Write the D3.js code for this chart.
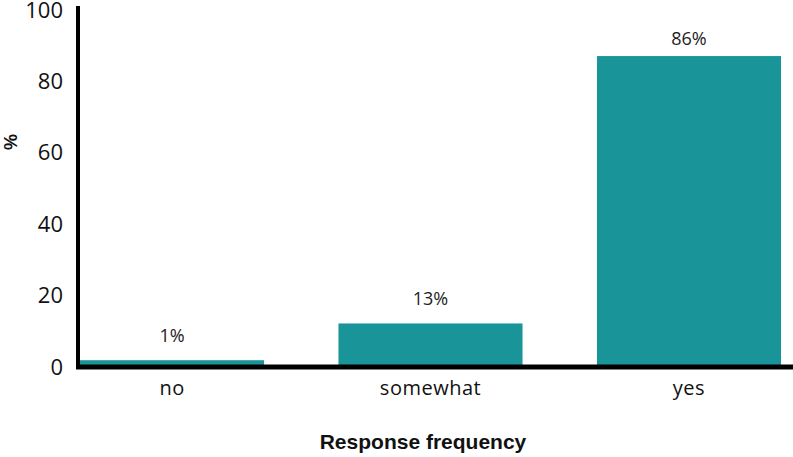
<!DOCTYPE html>
<html>
<head>
<meta charset="utf-8">
<script src="https://cdn.jsdelivr.net/npm/d3@7"></script>
<style>
  html, body { margin: 0; padding: 0; background: #fff; }
  svg { display: block; }
</style>
</head>
<body>
<svg id="chart" width="793" height="457"></svg>
<script>
const categories = ["no", "somewhat", "yes"];
const values = [1.9, 12.2, 87.1];
const valueLabels = ["1%", "13%", "86%"];
const yTicks = [0, 20, 40, 60, 80, 100];
const xTitle = "Response frequency";
const yTitle = "%";

const svg = d3.select("#chart");
const barColor = "#19959a";

const x = d3.scaleBand().domain(categories).range([80, 781]).paddingInner(0.288).paddingOuter(0);
const y = d3.scaleLinear().domain([0, 100]).range([367, 10]);

// bars
svg.selectAll("rect.bar").data(categories).enter().append("rect")
  .attr("class", "bar")
  .attr("x", d => x(d))
  .attr("width", x.bandwidth())
  .attr("y", (d, i) => y(values[i]))
  .attr("height", (d, i) => y(0) - y(values[i]))
  .attr("fill", barColor);

// value labels
svg.selectAll("text.vlab").data(categories).enter().append("text")
  .attr("class", "vlab")
  .attr("x", d => x(d) + x.bandwidth() / 2)
  .attr("y", (d, i) => Math.max(y(values[i]) - 18, 45))
  .attr("text-anchor", "middle")
  .attr("font-family", "Open Sans")
  .attr("font-size", 18)
  .attr("fill", "#222")
  .text((d, i) => valueLabels[i]);

// y axis
const yAxis = d3.axisLeft(y).tickValues(yTicks).tickSize(0).tickPadding(15);
const gy = svg.append("g").attr("transform", "translate(78,0)").call(yAxis);
gy.select(".domain").remove();
gy.selectAll("text").attr("font-family", "Open Sans").attr("font-size", 22).attr("fill", "#111");
gy.selectAll(".tick").filter(d => d === 100).select("text").attr("dy", "0.36em");
svg.append("line").attr("x1", 78).attr("x2", 78).attr("y1", 6).attr("y2", 369)
  .attr("stroke", "#000").attr("stroke-width", 4);

// x axis
const xAxis = d3.axisBottom(x).tickSize(0).tickPadding(14);
const gx = svg.append("g").attr("transform", "translate(0,367)").call(xAxis);
gx.select(".domain").remove();
gx.selectAll("text").attr("font-family", "Open Sans").attr("font-size", 20)
  .attr("letter-spacing", "0.5px").attr("fill", "#111");
svg.append("line").attr("x1", 76).attr("x2", 793).attr("y1", 367).attr("y2", 367)
  .attr("stroke", "#000").attr("stroke-width", 5);

// titles
svg.append("text").attr("x", 423).attr("y", 449).attr("text-anchor", "middle")
  .attr("font-family", "Liberation Sans").attr("font-weight", "bold").attr("font-size", 21)
  .attr("fill", "#111").text(xTitle);
svg.append("text").attr("transform", "translate(17,142) rotate(-90)").attr("text-anchor", "middle")
  .attr("font-family", "Liberation Sans").attr("font-weight", "bold").attr("font-size", 18)
  .attr("fill", "#111").text(yTitle);
</script>
</body>
</html>
